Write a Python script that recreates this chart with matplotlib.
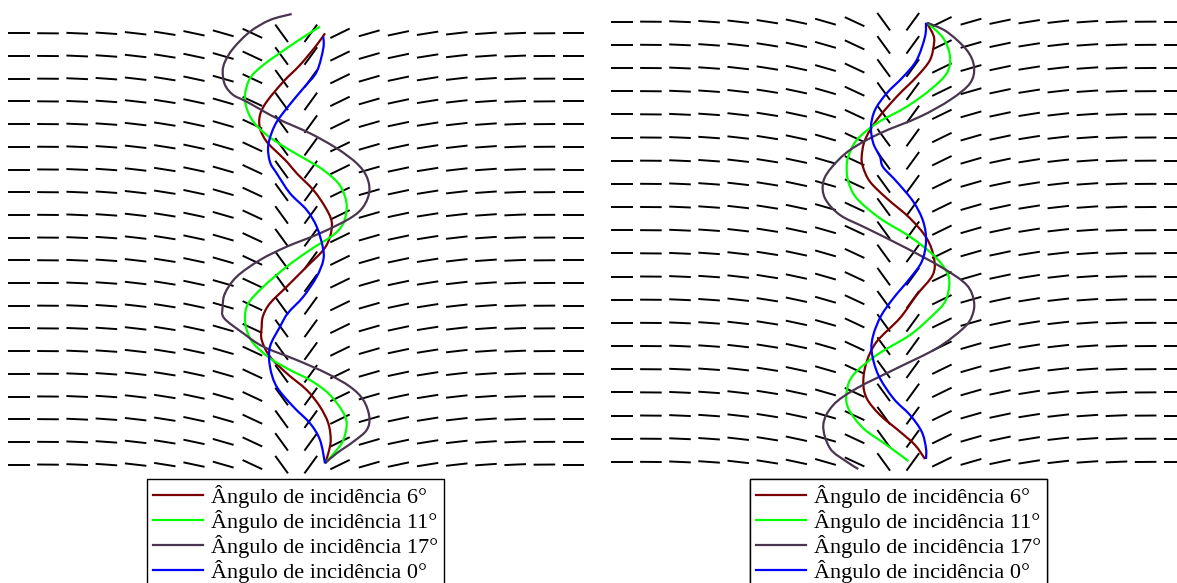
import numpy as np
import matplotlib
matplotlib.use('Agg')
import matplotlib.pyplot as plt
from matplotlib.collections import LineCollection
from matplotlib.lines import Line2D
from matplotlib.path import Path
from matplotlib.patches import PathPatch

# director field: column tilt (deg, positive = "\" in the picture), same for both panels
tilt = [0, 0.5, 2.5, 4, 6.5, 9, 12, 16, 25, 54, -54, -26, -16, -12, -9, -6.5, -4, -2.5, -0.5, 0]
cols_left = 18.8 + 29.2 * np.arange(20)
rows_left = 33.3 + 22.7 * np.arange(20)
cols_right = 621.8 + 29.1 * np.arange(20)
rows_right = 21.7 + 23.17 * np.arange(20)

# ray paths (x, y in image pixels)
left_red = [(325, 33.3), (316.7, 45), (300, 65), (283.3, 81.7), (266.7, 101.7), (260, 115), (260, 128.3),
            (266.7, 141.7), (280, 155), (288, 163), (296.7, 173.3), (313.3, 190), (325, 206.7), (331.7, 221.7),
            (330, 236.7), (323.3, 250), (306.7, 266.7), (286.7, 286.7), (270, 303.3), (263, 316), (261.7, 326.7),
            (261.7, 340), (270, 356.7), (286.7, 373.3), (306.7, 390), (320, 406.7), (328.3, 423.3), (330.7, 440),
            (328.3, 453.3), (325, 463.3)]
left_green = [(320, 26.7), (306.7, 35), (286.7, 48.3), (263.3, 65), (250, 78.3), (245, 95), (246.7, 108.3),
              (253.3, 121.7), (266.7, 135), (286.7, 148.3), (307, 160), (323.3, 170), (338.3, 183.3), (345, 196.7),
              (346.7, 208.3), (343.3, 223.3), (333.3, 235), (310, 250), (286.7, 266.7), (263.3, 286.7),
              (248.3, 303.3), (245, 316.7), (246.7, 330), (253.3, 343.3), (270, 358.3), (290, 370), (310, 380),
              (328.3, 393.3), (341.7, 410), (346.7, 423.3), (343.3, 440), (336.7, 450), (325, 463.3)]
left_purple = [(291.7, 14), (270, 20), (250, 31.7), (233.3, 48.3), (225, 61.7), (222.7, 71.7), (225, 85),
               (233.3, 95), (246.7, 101.7), (276.7, 118.3), (310, 133.3), (336.7, 148.3), (356.7, 163.3),
               (366.7, 176.7), (369.3, 191.7), (363.3, 206.7), (350, 218.3), (320, 233.3), (286.7, 246.7),
               (260, 260), (236.7, 276.7), (225, 293.3), (222.7, 306.7), (224, 318), (243.3, 333.3),
               (263.3, 346.7), (296.7, 360), (326.7, 373.3), (350, 386.7), (363.3, 400), (369.3, 416.7),
               (366.7, 430), (353.3, 441.7), (336.7, 453.3), (325, 463.3)]
left_blue = [(323.3, 36.7), (323.3, 48.3), (316.7, 71.7), (303.3, 88.3), (286.7, 108.3), (275, 125),
             (268.3, 145), (270, 162), (276.7, 173.3), (290, 193.3), (306.7, 210), (316.7, 226.7), (322.7, 246.7),
             (323.3, 260), (316.7, 276.7), (303.3, 296.7), (288, 313), (280, 326.7), (270, 346.7), (270, 366.7),
             (276.7, 386.7), (293.3, 406.7), (310, 423.3), (320, 440), (325, 463.3)]

right_red = [(926.7, 22.7), (933.3, 35), (934, 43.3), (930, 60), (916.7, 76.7), (896.7, 96.7), (876.7, 120),
             (865, 140), (861.7, 156.7), (863, 167), (870, 181.7), (886.7, 198.3), (910, 218.3), (926.7, 238.3),
             (934, 258.3), (932.7, 275), (916.7, 295), (900, 318), (876.7, 341.7), (866.7, 361.7), (863.3, 381.7),
             (866.7, 398.3), (880, 415), (900, 431.7), (915, 445), (925, 459)]
right_green = [(927.3, 22.7), (943.3, 38.3), (950, 56.7), (946.7, 73.3), (930, 90), (906.7, 106.7),
               (876.7, 123.3), (856.7, 140), (848.3, 156.7), (846.7, 168), (848.3, 181.7), (856.7, 198.3),
               (880, 218.3), (910, 236.7), (933.3, 255), (946.7, 271.7), (949.3, 285), (945, 301.7), (933, 315),
               (910, 335), (876.7, 355), (853.3, 375), (846.7, 391.7), (848.3, 408.3), (863.3, 428.3),
               (886.7, 445), (908.3, 461)]
right_purple = [(927.3, 22.7), (946.7, 31.7), (966.7, 50), (974, 66.7), (970, 83.3), (950, 100), (920, 116.7),
                (880, 133.3), (850, 150), (832, 167), (823.3, 181.7), (825, 198.3), (840, 215), (866.7, 228.3),
                (906.7, 248.3), (943.3, 268.3), (966.7, 285), (974, 301.7), (972, 316), (963.3, 328.3),
                (936.7, 348.3), (896.7, 368.3), (856.7, 388.3), (833.3, 405), (823.3, 425), (830, 448.3),
                (846.7, 461.7), (858.3, 469)]
right_blue = [(926, 22.7), (925, 36.7), (916.7, 60), (903.3, 76.7), (886.7, 93.3), (875, 110), (871, 126.7),
              (873.3, 143.3), (880, 156.7), (883, 167), (896.7, 181.7), (913.3, 201.7), (923.3, 221.7),
              (926, 241.7), (921.7, 261.7), (910, 278.3), (893.3, 298.3), (881, 316), (873.3, 335),
              (871.7, 351.7), (878.3, 375), (893.3, 398.3), (910, 415), (921.7, 431.7), (926, 448.3), (926, 459)]

labels = ['Ângulo de incidência 6°', 'Ângulo de incidência 11°',
          'Ângulo de incidência 17°', 'Ângulo de incidência 0°']
colors = ['#7a0000', '#00ff00', '#4a3550', '#0000ff']


def smooth_path(pts):
    # Bezier path through the read points (Catmull-Rom style handles)
    p = np.array(pts, dtype=float)
    ext = np.vstack([p[0], p, p[-1]])
    verts = [p[0]]
    codes = [Path.MOVETO]
    for i in range(1, len(ext) - 2):
        c1 = ext[i] + (ext[i + 1] - ext[i - 1]) / 6
        c2 = ext[i + 1] - (ext[i + 2] - ext[i]) / 6
        verts += [c1, c2, ext[i + 1]]
        codes += [Path.CURVE4] * 3
    return Path(verts, codes)


fig = plt.figure(figsize=(11.77, 5.83), dpi=100)
ax = fig.add_axes([0, 0, 1, 1])
ax.set_xlim(0, 1177)
ax.set_ylim(583, 0)
ax.axis('off')

half = 10.8
for cols, rows in [(cols_left, rows_left), (cols_right, rows_right)]:
    segs = []
    for x, t in zip(cols, tilt):
        dx = half * np.cos(np.radians(t))
        dy = half * np.sin(np.radians(t))
        for y in rows:
            segs.append([(x - dx, y - dy), (x + dx, y + dy)])
    ax.add_collection(LineCollection(segs, colors='black', linewidths=1.4, zorder=1))

left = [left_red, left_green, left_purple, left_blue]
right = [right_red, right_green, right_purple, right_blue]
for curves in [left, right]:
    for pts, c in zip(curves, colors):
        ax.add_patch(PathPatch(smooth_path(pts), facecolor='none', edgecolor=c, lw=1.6, zorder=2))

handles = [Line2D([], [], color=c, lw=1.6) for c in colors]
for x0 in [147, 750]:
    leg = ax.legend(handles, labels, loc='upper left', bbox_to_anchor=(x0, 479),
                    bbox_transform=ax.transData, borderaxespad=0, borderpad=0.25,
                    fancybox=False, framealpha=1, edgecolor='black',
                    handlelength=2.25, handletextpad=0.4, labelspacing=0.09,
                    prop={'family': 'Liberation Serif', 'size': 16})
    leg.get_frame().set_linewidth(1.0)
    ax.add_artist(leg)

fig.savefig('out.png', dpi=100)
